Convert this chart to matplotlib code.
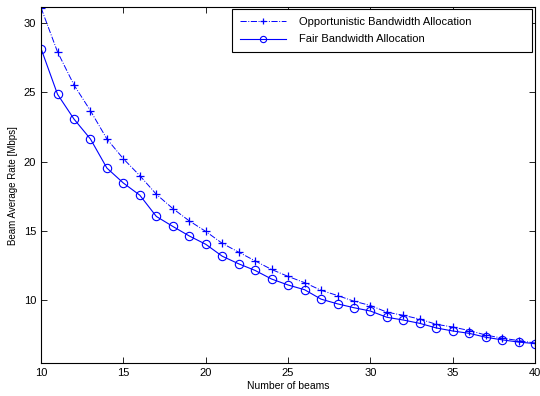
import matplotlib
matplotlib.use("Agg")
import matplotlib.pyplot as plt

beams = list(range(10, 41))

# Opportunistic bandwidth allocation (dash-dot, plus markers)
opportunistic = [31.1, 27.92, 25.53, 23.67, 21.63, 20.2, 18.98, 17.64, 16.61, 15.72,
                 14.96, 14.1, 13.46, 12.83, 12.21, 11.71, 11.26, 10.71, 10.33, 9.92,
                 9.61, 9.13, 8.9, 8.63, 8.25, 8.06, 7.8, 7.48, 7.25, 7.08, 6.9]

# Fair bandwidth allocation (solid, circle markers)
fair = [28.16, 24.86, 23.07, 21.63, 19.53, 18.45, 17.57, 16.04, 15.32, 14.63,
        14.03, 13.17, 12.62, 12.14, 11.52, 11.09, 10.75, 10.07, 9.73, 9.45,
        9.21, 8.76, 8.56, 8.32, 7.99, 7.77, 7.6, 7.32, 7.13, 6.97, 6.86]

plt.rcParams['font.family'] = ['Liberation Sans', 'DejaVu Sans']

fig = plt.figure(figsize=(5.4, 3.96), dpi=100)
ax = fig.add_axes([0.076, 0.083, 0.915, 0.899])

ax.plot(beams, opportunistic, "-.", marker="+", color="blue", linewidth=0.7,
        markersize=6, markeredgewidth=0.9, label="Opportunistic Bandwidth Allocation")
ax.plot(beams, fair, "-", marker="o", color="blue", linewidth=0.8,
        markersize=6, markerfacecolor="none", markeredgewidth=0.8,
        label="Fair Bandwidth Allocation")

ax.set_xlim(10, 40)
ax.set_ylim(5.45, 31.15)
ax.set_xticks([10, 15, 20, 25, 30, 35, 40])
ax.set_yticks([10, 15, 20, 25, 30])
ax.tick_params(direction="in", top=True, right=True, labelsize=8, length=4, width=0.6)
for s in ax.spines.values():
    s.set_linewidth(0.8)

ax.set_xlabel("Number of beams", fontsize=7.5, labelpad=2)
ax.set_ylabel("Beam Average Rate [Mbps]", fontsize=7, labelpad=4)

# legend box stretched to the same width as the original
leg = ax.legend(loc="upper left", bbox_to_anchor=(0.387, 0.872, 0.607, 0.1215),
                mode="expand", borderaxespad=0, fontsize=8, handlelength=4.1,
                handletextpad=1.2, markerscale=0.75, fancybox=False,
                framealpha=1, edgecolor="black", borderpad=0.7, labelspacing=0.65)
leg.get_frame().set_linewidth(0.8)

fig.savefig("out.png", dpi=100)
